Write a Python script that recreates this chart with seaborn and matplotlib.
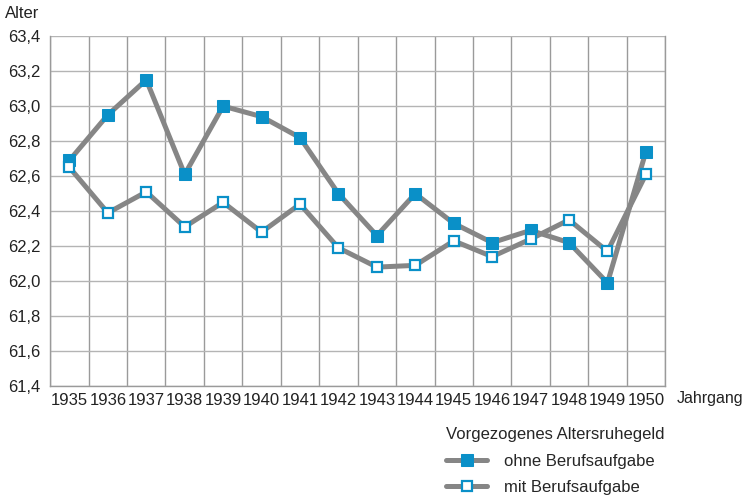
import numpy as np
import pandas as pd
import matplotlib.pyplot as plt
import seaborn as sns
from matplotlib.ticker import FixedLocator, FuncFormatter

jahrgang = ['1935', '1936', '1937', '1938', '1939', '1940', '1941', '1942',
            '1943', '1944', '1945', '1946', '1947', '1948', '1949', '1950']
ohne = [62.69, 62.95, 63.15, 62.61, 63.00, 62.94, 62.82, 62.50,
        62.26, 62.50, 62.33, 62.22, 62.29, 62.22, 61.99, 62.74]
mit = [62.65, 62.39, 62.51, 62.31, 62.45, 62.28, 62.44, 62.19,
       62.08, 62.09, 62.23, 62.14, 62.24, 62.35, 62.17, 62.61]
serien = ['ohne Berufsaufgabe', 'mit Berufsaufgabe']

sns.set_style("white")
plt.rcParams['font.family'] = ['Liberation Sans', 'DejaVu Sans']

blau = '#0a90c8'
grau = '#868686'
fs = 12

df = pd.DataFrame({'pos': np.arange(len(jahrgang)), 'ohne': ohne, 'mit': mit})

fig = plt.figure(figsize=(7.49, 4.95), dpi=100)
ax = fig.add_axes([0.067, 0.22, 0.821, 0.707])

sns.lineplot(data=df, x='pos', y='ohne', ax=ax, color=grau, lw=3.6,
             marker='s', markersize=8.5, markerfacecolor=blau, markeredgecolor=blau,
             label=serien[0])
sns.lineplot(data=df, x='pos', y='mit', ax=ax, color=grau, lw=3.6,
             marker='s', markersize=7.5, markerfacecolor='white', markeredgecolor=blau,
             markeredgewidth=1.6, label=serien[1])

ax.set_xlim(-0.5, len(jahrgang) - 0.5)
ax.set_ylim(61.4, 63.4)
ax.set_xticks(np.arange(len(jahrgang)))
ax.set_xticklabels(jahrgang)
ax.xaxis.set_minor_locator(FixedLocator(np.arange(-0.5, len(jahrgang), 1)))
ax.set_yticks(np.arange(61.4, 63.41, 0.2))
ax.yaxis.set_major_formatter(FuncFormatter(lambda v, p: f"{v:.1f}".replace('.', ',')))

ax.grid(False)
ax.grid(True, which='minor', axis='x', color='#9a9a9a', lw=1)
ax.grid(True, which='major', axis='y', color='#b4b4b4', lw=1)
ax.tick_params(axis='x', which='major', length=0, pad=5, labelsize=fs, colors='#222222')
ax.tick_params(axis='x', which='minor', length=13, width=1, color='#9a9a9a', direction='out')
ax.tick_params(axis='y', length=0, pad=7, labelsize=fs, colors='#222222')
ax.spines['top'].set_visible(False)
for s in ['left', 'right', 'bottom']:
    ax.spines[s].set_color('#9a9a9a')
    ax.spines[s].set_linewidth(1)

ax.set_xlabel('')
ax.set_ylabel('')
fig.text(0.007, 0.973, 'Alter', fontsize=fs, color='#222222', va='center')
fig.text(0.903, 0.195, 'Jahrgang', fontsize=11.5, color='#222222', va='center')

leg = ax.legend(title='Vorgezogenes Altersruhegeld', loc='upper left',
                bbox_to_anchor=(0.575, 0.168), bbox_transform=fig.transFigure,
                frameon=False, fontsize=fs, title_fontsize=fs, handlelength=2.5,
                handletextpad=1.0, labelspacing=0.7, alignment='left')

plt.savefig('out.png', dpi=100)
